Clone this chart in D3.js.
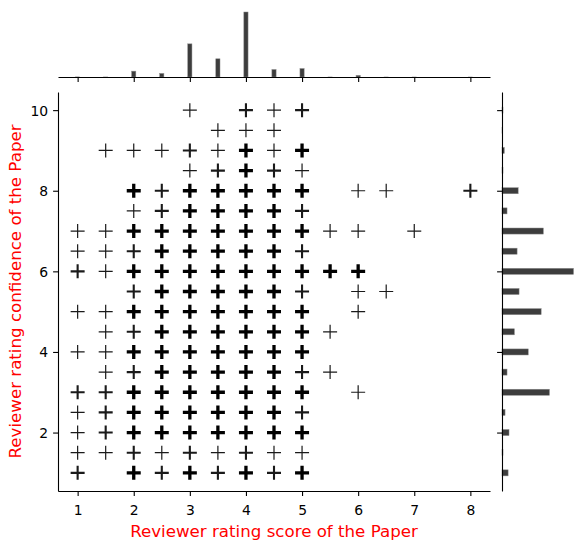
<!DOCTYPE html>
<html><head><meta charset="utf-8">
<script src="https://cdn.jsdelivr.net/npm/d3@7"></script>
<style>body{margin:0;background:#fff} svg{display:block} text{font-family:"DejaVu Sans",sans-serif}</style>
</head><body><svg id="c" width="586" height="545"></svg>
<script>
// ---- data ----
const scoreTicks = [1, 2, 3, 4, 5, 6, 7, 8];
const confTicks = [2, 4, 6, 8, 10];
const xLabel = "Reviewer rating score of the Paper";
const yLabel = "Reviewer rating confidence of the Paper";

// marginal histogram of scores (x)
const scoreValues = [1, 1.5, 2, 2.5, 3, 3.5, 4, 4.5, 5, 5.5, 6, 6.5, 7, 8];
const scoreCounts = [6, 3, 360, 220, 2040, 1120, 4000, 460, 520, 2, 100, 1, 1, 1];

// marginal histogram of confidence (y)
const confValues = [1, 1.5, 2, 2.5, 3, 3.5, 4, 4.5, 5, 5.5, 6, 6.5, 7, 7.5, 8, 8.5, 9, 9.5, 10];
const confCounts = [170, 28, 195, 85, 1320, 140, 730, 345, 1090, 475, 1990, 420, 1150, 140, 450, 28, 64, 8, 28];

// scatter: for each confidence row, [score, approx. number of overlapping reviews]
const rowConf = [10, 9.5, 9, 8.5, 8, 7.5, 7, 6.5, 6, 5.5, 5, 4.5, 4, 3.5, 3, 2.5, 2, 1.5, 1];
const rowPoints = [
  [[3,1],[4,3],[4.5,1],[5,3]],
  [[3.5,1],[4,1],[4.5,1]],
  [[1.5,1],[2,1],[2.5,1],[3,3],[3.5,1],[4,12],[4.5,1],[5,12]],
  [[3,1],[3.5,3],[4,12],[4.5,3],[5,1]],
  [[2,12],[2.5,3],[3,12],[3.5,12],[4,12],[4.5,12],[5,12],[6,1],[6.5,1],[8,3]],
  [[2,1],[2.5,3],[3,12],[3.5,12],[4,12],[4.5,12],[5,3]],
  [[1,1],[1.5,1],[2,12],[2.5,12],[3,12],[3.5,12],[4,12],[4.5,12],[5,12],[5.5,1],[6,1],[7,1]],
  [[1,1],[1.5,1],[2,3],[2.5,12],[3,12],[3.5,12],[4,12],[4.5,12],[5,3]],
  [[1,3],[1.5,1],[2,12],[2.5,12],[3,12],[3.5,12],[4,12],[4.5,12],[5,12],[5.5,12],[6,12]],
  [[2,3],[2.5,12],[3,12],[3.5,12],[4,12],[4.5,12],[5,3],[6,1],[6.5,1]],
  [[1,1],[1.5,1],[2,12],[2.5,12],[3,12],[3.5,12],[4,12],[4.5,12],[5,12],[6,1]],
  [[1.5,1],[2,3],[2.5,12],[3,12],[3.5,12],[4,12],[4.5,12],[5,12],[5.5,1]],
  [[1,1],[1.5,1],[2,12],[2.5,12],[3,12],[3.5,12],[4,12],[4.5,12],[5,12]],
  [[1.5,1],[2,3],[2.5,12],[3,12],[3.5,12],[4,12],[4.5,12],[5,3],[5.5,1]],
  [[1,3],[1.5,3],[2,12],[2.5,12],[3,12],[3.5,12],[4,12],[4.5,12],[5,12],[6,1]],
  [[1,1],[1.5,3],[2,12],[2.5,12],[3,12],[3.5,12],[4,12],[4.5,12],[5,3]],
  [[1,1],[1.5,3],[2,12],[2.5,12],[3,12],[3.5,12],[4,12],[4.5,12],[5,12]],
  [[1,1],[1.5,1],[2,3],[2.5,1],[3,3],[3.5,1],[4,3],[4.5,1],[5,1]],
  [[1,3],[2,12],[2.5,3],[3,12],[3.5,3],[4,12],[4.5,3],[5,12]]
];

// ---- drawing ----
const svg = d3.select("#c");
const FS = 13.9, LFS = 16.67;
const main = {l: 58, r: 490, t: 92, b: 491};
const x = d3.scaleLinear([0.65, 8.35], [main.l, main.r]);
const y = d3.scaleLinear([0.55, 10.45], [main.b, main.t]);
const topBase = 77, rightBase = 502;
const hTop = d3.scaleLinear([0, d3.max(scoreCounts)], [topBase, 12]);
const wRight = d3.scaleLinear([0, d3.max(confCounts)], [rightBase, 573.5]);

const points = [];
rowConf.forEach((c, i) => rowPoints[i].forEach(([s, n]) => points.push({s, c, n})));

const widthFor = d3.scaleThreshold([2, 6], [1.2, 2.1, 3.3]);
const colorFor = d3.scaleThreshold([2, 6], ["#1a1a1a", "#1a1a1a", "#000"]);

svg.append("g").selectAll("path").data(points).join("path")
  .attr("transform", d => `translate(${x(d.s)},${y(d.c)})`)
  .attr("d", "M-7,0H7M0,-7V7")
  .attr("fill", "none")
  .attr("stroke", d => colorFor(d.n))
  .attr("stroke-width", d => widthFor(d.n));

// marginal bars
const xBin = 0.075, yBin = 0.15;
svg.append("g").selectAll("rect").data(scoreValues.map((v, i) => ({v, n: scoreCounts[i]})))
  .join("rect")
  .attr("x", d => x(d.v - xBin / 2))
  .attr("width", x(xBin) - x(0))
  .attr("y", d => hTop(d.n))
  .attr("height", d => topBase - hTop(d.n))
  .attr("fill", "#3d3d3d").attr("stroke", "#8a8a8a").attr("stroke-width", 0.5);

svg.append("g").selectAll("rect").data(confValues.map((v, i) => ({v, n: confCounts[i]})))
  .join("rect")
  .attr("y", d => y(d.v + yBin / 2))
  .attr("height", y(0) - y(yBin))
  .attr("x", rightBase)
  .attr("width", d => wRight(d.n) - rightBase)
  .attr("fill", "#3d3d3d").attr("stroke", "#8a8a8a").attr("stroke-width", 0.5);

function styleAxis(g) {
  g.selectAll("path.domain").attr("stroke", "#000").attr("stroke-width", 1.1);
  g.selectAll(".tick line").attr("stroke", "#000").attr("stroke-width", 1.1);
  g.selectAll(".tick text").attr("font-size", FS).attr("fill", "#000")
    .attr("font-family", '"DejaVu Sans",sans-serif');
}

// main axes
const gx = svg.append("g").attr("transform", `translate(0,${main.b})`)
  .call(d3.axisBottom(x).tickValues(scoreTicks).tickFormat(d3.format("d")).tickSize(4.9).tickSizeOuter(0));
styleAxis(gx);
gx.selectAll(".tick text").attr("y", 23.5).attr("dy", 0);

const gy = svg.append("g").attr("transform", `translate(${main.l},0)`)
  .call(d3.axisLeft(y).tickValues(confTicks).tickFormat(d3.format("d")).tickSize(4.9).tickPadding(4.9).tickSizeOuter(0));
styleAxis(gy);
gy.selectAll(".tick text").attr("dy", "0.36em");

// marginal axes
const gtx = svg.append("g").attr("transform", `translate(0,${topBase})`)
  .call(d3.axisBottom(x).tickValues(scoreTicks).tickFormat("").tickSize(4.9).tickSizeOuter(0));
styleAxis(gtx);

const gry = svg.append("g").attr("transform", `translate(${rightBase},0)`)
  .call(d3.axisLeft(y).tickValues(confTicks).tickFormat("").tickSize(4.9).tickSizeOuter(0));
styleAxis(gry);

// labels
svg.append("text").attr("x", (main.l + main.r) / 2).attr("y", 536.5)
  .attr("text-anchor", "middle").attr("font-size", LFS).attr("fill", "#ff0000").text(xLabel);
svg.append("text").attr("transform", `translate(21,${(main.t + main.b) / 2}) rotate(-90)`)
  .attr("text-anchor", "middle").attr("font-size", LFS).attr("fill", "#ff0000").text(yLabel);
</script>
</body></html>
